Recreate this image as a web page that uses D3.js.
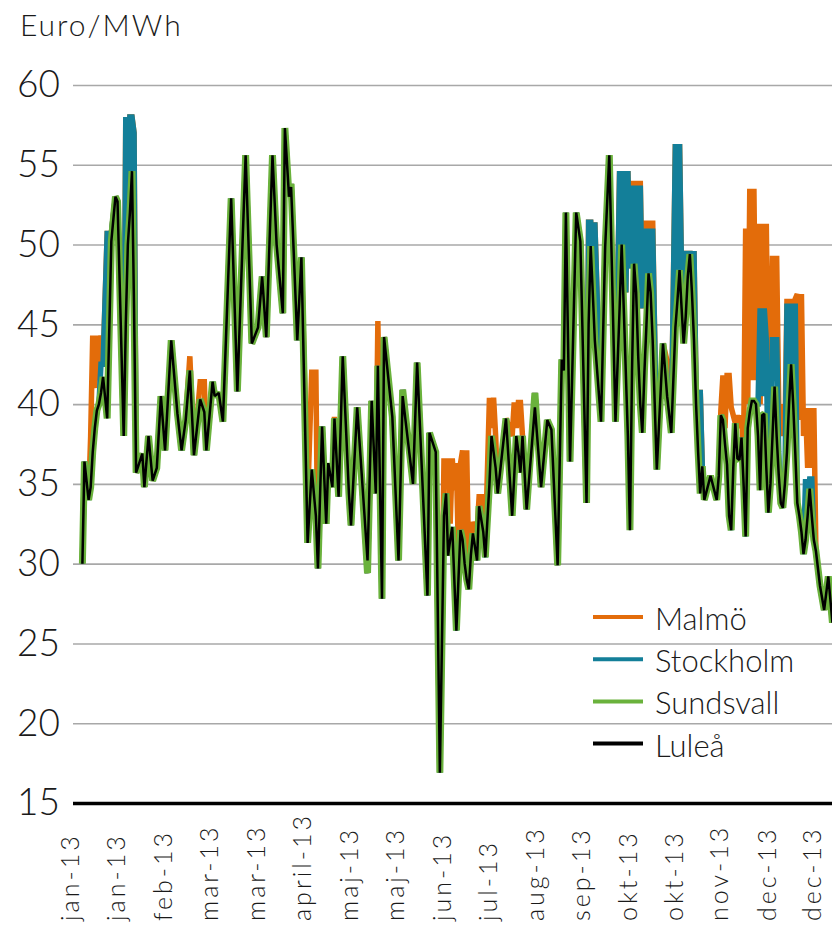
<!DOCTYPE html>
<html><head><meta charset="utf-8">
<script src="https://cdn.jsdelivr.net/npm/d3@7"></script>
<style>
body{margin:0;background:#fff}
text{font-family:Lato,"Open Sans",sans-serif;font-weight:300;fill:#1a1a1a}
</style>
</head><body>
<svg id="c" width="832" height="926"></svg>
<script>
const days = [
 6,7,9,10,11,12,13,14,15,16,18,20,22,23,26,27,28,29,30,31,32,35,36,38,
 40,42,44,46,49,52,54,56,58,60,63,65,66,69,70,72,74,78,81,85,88,91,93,95,98,100,103,104,106,107,
 110,112,115,117,119,120,122,124,125,127,128,130,132,135,136,139,144,146,148,149,151,152,156,159,161,166,168,173,174,177,
 179,181,182,183,184,185,186,187,188,189,190,191,192,193,194,195,197,198,200,201,203,204,205,206,207,211,
 214,215,216,217,218,219,221,225,228,231,233,236,238,239,240,242,245,247,
 250,251,252,253,254,257,259,261,264,266,267,268,269,270,271,272,273,274,275,276,277,278,279,280,281,282,283,284,287,289,291,
 293,294,295,296,297,298,299,300,301,302,303,304,305,306,307,310,
 313,314,315,316,317,318,319,320,321,322,323,324,325,326,327,328,329,330,331,332,333,334,335,336,337,338,339,340,341,342,343,344,345,346,347,348,349,350,351,352,353,354,355,356,357,358,359,360,361,363,365,367,369,371];

const lulea = [
 30,36.4,34,34.8,37,38.5,39.6,40,40.7,41.7,39.1,50.2,53,52.7,38,45,50,52,54.6,46,35.7,36.9,34.8,38,
 35.2,36,40.5,37.1,44,39.4,37.1,39,42.1,36.8,40.3,39.5,37.1,41.4,40.5,40.7,38.9,52.9,40.8,55.6,43.8,44.8,48,44.2,55.6,50,45.7,57.3,53,53.6,
 44,49.2,31.3,35.9,33,29.7,38.6,32.5,36.3,34.8,39.1,34.2,43,34.4,32.4,39.8,30.2,40.2,34.4,42.4,27.8,44.2,39.2,30.2,40.5,35,42.6,28,38.2,37,
 16.9,33,34.4,30.5,31.5,32.3,29,25.8,29,32.1,31.5,30,29,28.4,30.5,31.9,30.2,33.6,32,30.4,35,38,37,36,34.4,39.1,
 33,35.5,38,37,35.7,38,33.4,39.8,34.8,39,38.4,29.9,42.8,42.1,52,36.4,52,50.2,
 33.8,45,49.9,47,44,38.9,49.8,55.6,38.9,46,50,46,42,38,32.1,42,48.8,47,43,40,38.2,42,45,48.2,47,44,40,35.9,43.8,40.5,38.2,
 44.8,46.5,48.4,46,43.8,45.5,48,49.4,47,44,40,37,34.4,36.1,34,35.5,
 34,35.5,39.3,39,37.5,36.2,33,32.1,36,38.8,36.6,36.5,37.9,35,31.7,38.5,39.5,40.2,40.2,40,38,34.6,39.3,39.4,36,33.2,35,38,41.1,38,35.6,33.8,33.5,35,37,40,42.5,40,37,33.8,33,32,30.6,31.5,33,34.7,33,31.5,30.8,28.6,27.1,29.2,26.3,28];

const sundsvall = [
 30,36.4,34,34.8,37,38.5,39.6,40,40.7,41.7,39.1,50.2,53,52.7,38,45,50,52,54.6,46,35.7,36.9,34.8,38,
 35.2,36,40.5,37.1,44,39.4,37.1,39,42.1,36.8,40.3,39.5,37.1,41.4,40.5,40.7,38.9,52.9,40.8,55.6,43.8,44.8,48,44.2,55.6,50,45.7,57.3,53,53.8,
 44,49.2,31.3,35.9,33,29.7,38.6,32.5,36.3,34.8,39.1,34.2,43,34.4,32.4,39.8,29.4,40.2,34.4,42.4,27.8,44.2,39.2,30.2,40.9,35,42.6,28,38.2,37,
 16.9,33,34.4,30.5,31.5,32.3,29,25.8,29,32.1,31.5,30,29,28.4,30.5,31.9,30.2,33.6,32,30.4,35,38,37,36,34.4,39.1,
 33,35.5,38,37,35.7,38,33.4,40.7,34.8,39,38.4,29.9,42.8,42.1,52,36.4,52,50.2,
 33.8,45,49.9,47,44,38.9,49.8,55.6,38.9,46,50,46,42,38,32.1,42,48.8,47,43,40,38.2,42,45,48.2,47,44,40,35.9,43.8,40.5,38.2,
 44.8,46.5,48.4,46,43.8,45.5,48,49.4,47,44,40,37,34.4,36.1,34,35.5,
 34,35.5,39.3,39,37.5,36.2,33,32.1,36,38.8,36.6,36.5,37.9,35,31.7,38.5,39.5,40.2,40.2,40,38,34.6,39.3,39.4,36,33.2,35,38,41.1,38,35.6,33.8,33.5,35,37,40,42.5,40,37,33.8,33,32,30.6,31.5,33,34.7,33,31.5,30.8,28.6,27.1,29.2,26.3,28];

const stockholm = [
 30,36.4,34,34.8,37,38.5,39.6,40,42.5,42.5,50.7,50.7,53,52.7,38,58,52,58,58,57,35.7,36.9,34.8,38,
 35.2,36,40.5,37.1,44,39.4,37.1,39,42.1,36.8,40.3,39.5,37.1,41.4,40.5,40.7,38.9,52.9,40.8,55.6,43.8,44.8,48,44.2,55.6,50,45.7,57.3,53,53.8,
 44,49.2,31.3,35.9,33,29.7,38.6,32.5,36.3,34.8,39.1,34.2,43,34.4,32.4,39.8,29.4,40.2,34.4,42.4,27.8,44.2,39.2,30.2,40.9,35,42.6,28,38.2,37,
 16.9,33,34.4,30.5,31.5,32.3,29,25.8,29,32.1,31.5,30,29,28.4,30.5,31.9,30.2,33.6,32,30.4,35,38,37,36,34.4,39.1,
 33,35.5,38,37,35.7,38,33.4,40.7,34.8,39,38.4,29.9,42.8,42.1,52,36.4,52,50.2,
 33.8,51.4,51.4,48,51.4,38.9,49.8,55.6,38.9,54.6,47.5,54.6,47,54.6,48.5,53.7,48,53.7,47,53.7,46,51,47,51,47.5,51,44,35.9,43.8,40.5,38.2,
 56.3,47,56.3,48,47.5,49.6,48,49.6,47,49.6,40.9,38,40.9,36.1,34,35.5,
 34,35.5,39.3,39,37.5,36.2,33,32.1,36,38.8,36.6,36.5,37.9,35,31.7,38.5,39.5,40.2,40.2,40,40,46,40.5,46,44,33.2,35,44.2,42,44.2,37,33.8,33.5,35,46.3,41,46.3,41,46.3,33.8,33,32,30.6,35.3,34,35.3,35.3,31.5,30.8,28.6,27.1,29.2,26.3,28];

const malmo = [
 30,36.4,34,38,44.3,41,44.3,41.5,44.3,42.5,50.7,50.7,53,52.7,38,58,52,58,58,57,35.7,36.9,34.8,38,
 35.2,36,40.5,37.1,44,39.4,37.1,39,43,36.8,41.4,41.4,37.1,41.4,40.5,40.7,38.9,52.9,40.8,55.6,43.8,44.8,48,44.2,55.6,50,45.7,57.3,53,53.8,
 44,49.2,34,42,42,29.7,38.6,32.5,36.3,34.8,39.2,34.2,43,34.4,32.4,39.8,29.4,40.2,34.4,45.2,27.8,44.2,39.2,30.2,40.9,35,42.6,28,38.2,37,
 16.9,36.6,35,36.6,32.5,36.6,34.6,36.3,30.5,36.3,37.1,31,37.1,29.5,31.5,32.6,32,34.2,34.2,31,40.4,38.5,40.4,38,34.4,39.1,
 38,40.1,38.5,40.1,40.1,38,33.4,40.7,34.8,39,38.4,29.9,42.8,42.1,52,36.4,52,50.2,
 33.8,51.4,51.4,48,51.4,38.9,49.8,55.6,38.9,54.6,47.5,54.6,47,54.6,48.5,54,48,54,47,54,46,51.5,47,51.5,47.5,51.5,44,35.9,43.8,42.7,38.2,
 56.3,47,56.3,48,47.5,49.6,48,49.6,47,49.6,40.9,38,40.9,36.1,34,35.5,
 34,35.5,39.6,41.8,38.5,41.8,41.8,39.8,39.3,38.8,39.3,38.5,39.3,37,51,40,53.5,41.5,53.5,41.5,51.3,40,51.3,41,51.3,40,42,49.3,42.5,49.3,40,38,40,38,46.6,41.5,46.6,41.5,46.6,46.9,39,46.9,38,39.75,36,39.75,36,39.75,30.8,28.6,27.1,29.2,26.3,28];

const yTicks = [15,20,25,30,35,40,45,50,55,60];
const xTickDays = [0,22,45,67,90,112,135,157,180,202,225,247,270,292,314,337,359];
const xTickLabels = ["jan-13","jan-13","feb-13","mar-13","mar-13","april-13","maj-13","maj-13","jun-13","jul-13","aug-13","sep-13","okt-13","okt-13","nov-13","dec-13","dec-13"];
const seriesNames = ["Malmö","Stockholm","Sundsvall","Luleå"];
const unitLabel = "Euro/MWh";

const colors = {"Malmö":"#e36c0a","Stockholm":"#137f99","Sundsvall":"#6ab23c","Luleå":"#000000"};
const widths = {"Malmö":5.5,"Stockholm":5.5,"Sundsvall":7,"Luleå":2.5};
const seriesData = {"Malmö":malmo,"Stockholm":stockholm,"Sundsvall":sundsvall,"Luleå":lulea};

const svg = d3.select("#c");
svg.append("rect").attr("width",832).attr("height",926).attr("fill","#fff");

const x = d3.scaleLinear().domain([0,370]).range([70,834.5]);
const y = d3.scaleLinear().domain([15,60]).range([803,85]);
const left = 73, right = 832;

const yAxis = svg.append("g").attr("transform",`translate(${left},0)`)
  .call(d3.axisLeft(y).tickValues(yTicks).tickSize(-(right-left)).tickPadding(13).tickFormat(d3.format("d")));
yAxis.select(".domain").remove();
yAxis.selectAll(".tick line").attr("stroke",d=>d===15?"#000":"#a8a8a8").attr("stroke-width",d=>d===15?3.5:1.6);
yAxis.selectAll(".tick text").style("font-size","37px").style("font-family","Lato, sans-serif").style("font-weight","300").attr("fill","#1a1a1a");

const xAxis = svg.append("g").attr("transform","translate(0,803)")
  .call(d3.axisBottom(x).tickValues(xTickDays).tickSize(0).tickFormat((d,i)=>xTickLabels[i]));
xAxis.select(".domain").remove();
xAxis.selectAll(".tick text")
  .attr("transform","rotate(-90)").attr("x",-118).attr("y",0).attr("dy","0.35em")
  .style("text-anchor","start").style("font-size","25px").style("letter-spacing","3px")
  .style("font-family","Lato, sans-serif").style("font-weight","300").attr("fill","#1a1a1a");

const line = d3.line().x((d,i)=>x(days[i])).y(d=>y(d));
seriesNames.forEach(name=>{
  svg.append("path").datum(seriesData[name]).attr("d",line)
    .attr("fill","none").attr("stroke",colors[name]).attr("stroke-width",widths[name])
    .attr("stroke-linejoin","miter").attr("stroke-miterlimit",1.5);
});

svg.append("text").attr("x",20).attr("y",36).text(unitLabel)
  .style("font-size","30px").style("letter-spacing","2px");

const lg = svg.append("g");
seriesNames.forEach((name,i)=>{
  const yy = 617 + i*42.2;
  lg.append("line").attr("x1",593).attr("x2",643).attr("y1",yy).attr("y2",yy)
    .attr("stroke",colors[name]).attr("stroke-width",4);
  lg.append("text").attr("x",655).attr("y",yy+13).text(name).style("font-size","31px");
});

const bad = seriesNames.filter(n=>seriesData[n].length!==days.length);
if (bad.length) svg.append("text").attr("x",300).attr("y",60).attr("fill","red").text("LEN "+days.length+" "+bad.map(n=>n+seriesData[n].length).join(" "));
</script>
</body></html>
